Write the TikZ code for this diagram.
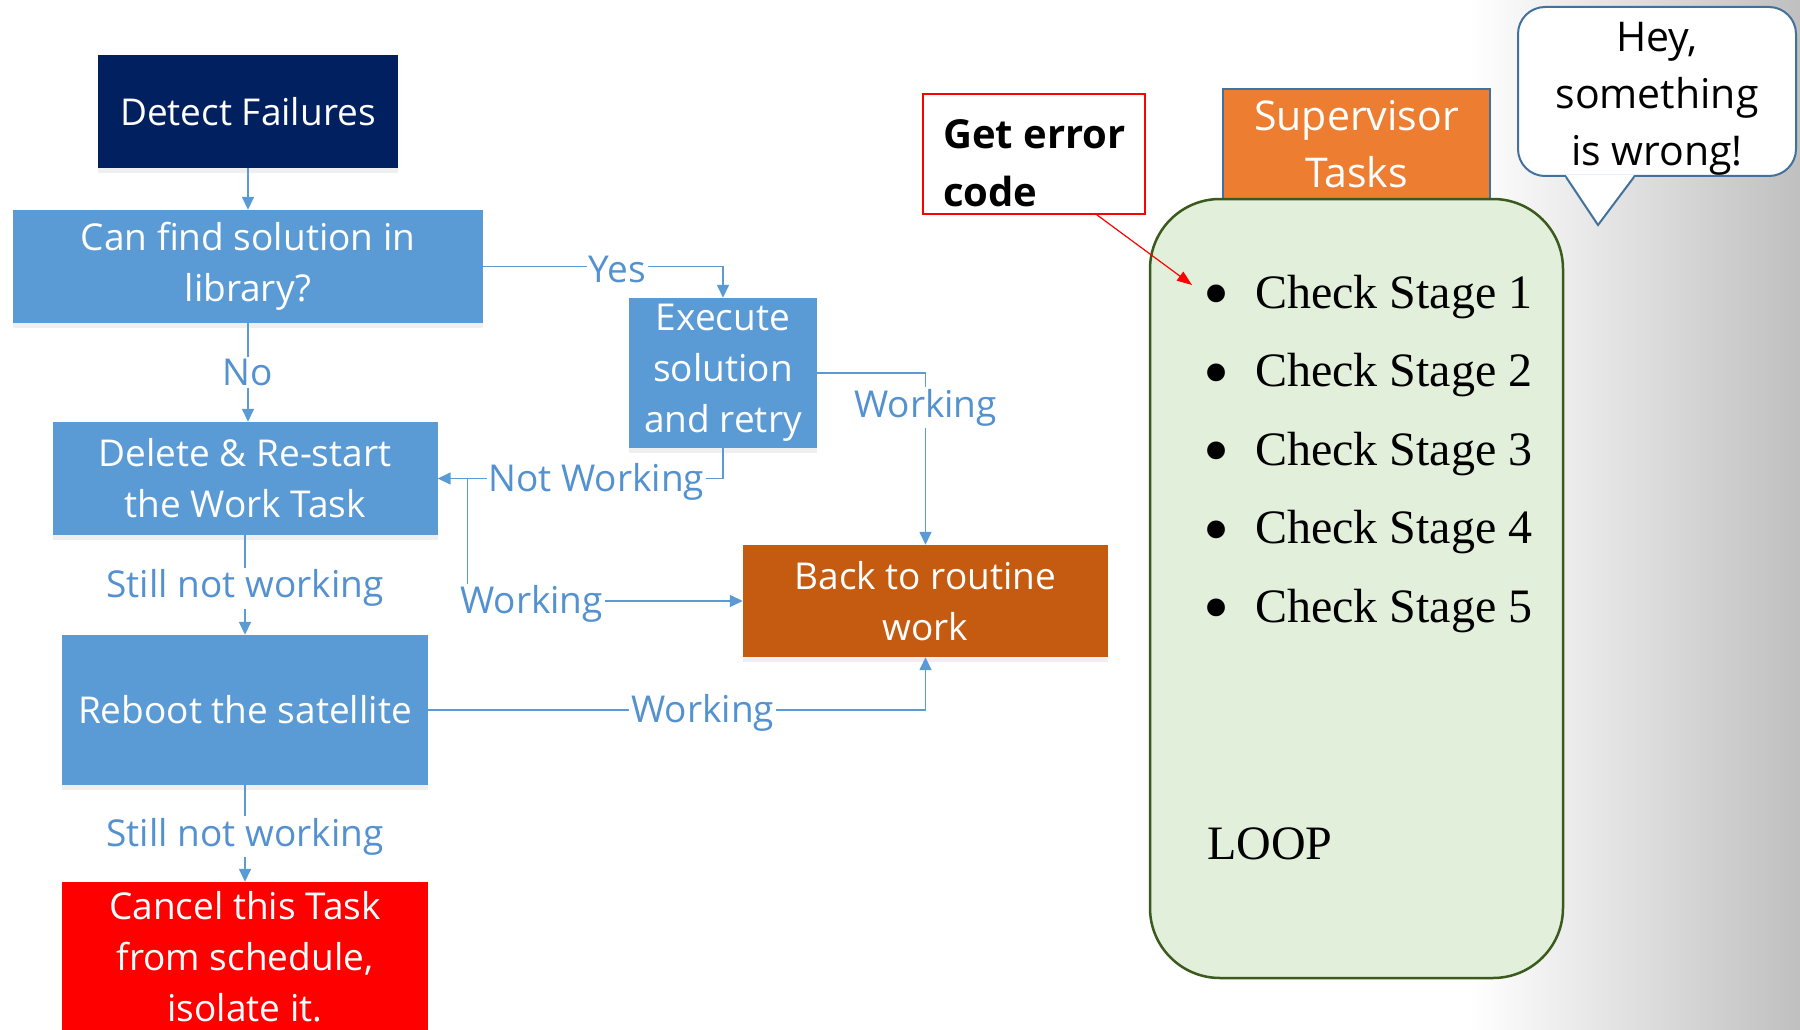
\documentclass[tikz,border=0pt]{standalone}
\usepackage{fontspec}
\usetikzlibrary{arrows.meta,shadows}
\newfontfamily\osans{Open Sans}
\newfontfamily\lserif{Liberation Serif}
\definecolor{navy}{HTML}{002060}
\definecolor{cblue}{HTML}{5B9BD5}
\definecolor{brn}{HTML}{C55A11}
\definecolor{orng}{HTML}{ED7D31}
\definecolor{bord}{HTML}{41719C}
\definecolor{lgreen}{HTML}{E2EFDA}
\definecolor{dgreen}{HTML}{3A5A1E}
\definecolor{ltxt}{HTML}{5391D0}
\begin{document}
\begin{tikzpicture}[x=1pt,y=-1pt,
  box/.style={rectangle, draw=none, text=white, font=\osans\fontsize{37}{51}\selectfont, align=center, inner sep=0pt,
    drop shadow={shadow xshift=0pt, shadow yshift=-5pt, opacity=0.12}},
  conn/.style={draw=cblue, line width=1.5pt, -{Triangle[length=13pt,width=12pt]}},
  lbl/.style={fill=white, text=ltxt, font=\osans\fontsize{37}{44}\selectfont, inner sep=2pt, yshift=-3pt},
  item/.style={anchor=base west, font=\lserif\fontsize{48}{56}\selectfont, inner sep=0pt}
]
\useasboundingbox (0,0) rectangle (1800,1030);
\fill[white] (0,0) rectangle (1800,1030);
\shade[left color=white, right color=black!25] (1470,0) rectangle (1800,1030);

% flowchart boxes
\node[box, fill=navy, minimum width=300, minimum height=113] (det) at (248,111.5) {Detect Failures};
\node[box, fill=cblue, minimum width=470, minimum height=113] (lib) at (248,266.5) {Can find solution in\\library?};
\node[box, fill=cblue, minimum width=188, minimum height=150] (exe) at (723,373) {Execute\\solution\\and retry};
\node[box, fill=cblue, minimum width=385, minimum height=113] (del) at (245,478.5) {Delete \& Re-start\\the Work Task};
\node[box, fill=brn, minimum width=365, minimum height=112] (back) at (925.5,601) {Back to routine\\work};
\node[box, fill=cblue, minimum width=366, minimum height=150] (reb) at (245,710) {Reboot the satellite};
\node[box, fill=red, minimum width=366, minimum height=150] (can) at (245,957) {Cancel this Task\\from schedule,\\isolate it.};

% connectors
\draw[conn] (det.south) -- (det.south |- lib.north);
\draw[conn] (lib.east) -| node[lbl, pos=0.28] {Yes} (exe.north);
\draw[conn] (lib.south) -- node[lbl, yshift=3pt] {No} (lib.south |- del.north);
\draw[conn] (exe.east) -| node[lbl, pos=0.593] {Working} (back.north);
\draw[conn] (exe.south) |- node[lbl, pos=0.722] {Not Working} (del.east);
\draw[conn] (del.east) -- ++(30,0) |- node[lbl, pos=0.616] {Working} (back.west);
\draw[conn] (del.south) -- node[lbl] {Still not working} (del.south |- reb.north);
\draw[conn] (reb.east) -| node[lbl, pos=0.276] {Working} (back.south);
\draw[conn] (reb.south) -- node[lbl] {Still not working} (reb.south |- can.north);

% right side
\node[draw=red, line width=1.5pt, fill=white, minimum width=222, minimum height=120, inner sep=0pt] (err) at (1034,154) {};
\node[anchor=west, align=left, font=\osans\bfseries\fontsize{40}{58}\selectfont, inner sep=0pt] (errtxt) at (943,163) {Get error\\code};

\node[draw=bord, line width=2.5pt, fill=orng, text=white, minimum width=267, minimum height=110, align=center,
  font=\osans\fontsize{41}{57}\selectfont, inner sep=0pt] (sup) at (1356.5,144) {Supervisor\\Tasks};
\node[draw=dgreen, line width=2.5pt, fill=lgreen, rounded corners=70, minimum width=413, minimum height=779, inner sep=0pt] (grn) at (1356.5,588.5) {};

\foreach \i/\y in {1/308,2/386.5,3/465,4/543.5,5/622}
  \node[item] (st\i) at (1203,\y) {\makebox[52pt][l]{\raisebox{-10.5pt}{\scalebox{1.55}{•}}}Check Stage \i};
\node[item] (loop) at (1207,859.5) {LOOP};

\coordinate (tip) at (1192,285);
\draw[red, line width=1.2pt, -{Triangle[length=15pt,width=11pt]}] ([xshift=-49pt]err.south east) -- (tip);

\node[draw=bord, line width=2pt, fill=white, rounded corners=27, minimum width=278, minimum height=169, inner sep=0pt] (bub) at (1657,91.5) {};
\coordinate (bubtip) at (1598,225);
\fill[white] ([xshift=-91pt,yshift=2pt]bub.south) -- (bubtip) -- ([xshift=-23pt,yshift=2pt]bub.south) -- cycle;
\draw[bord, line width=2pt, line join=miter] ([xshift=-91pt]bub.south) -- (bubtip) -- ([xshift=-23pt]bub.south);
\node[align=center, font=\osans\fontsize{41}{57}\selectfont, inner sep=0pt] (bubtxt) at (1657,98.5) {Hey,\\something\\is wrong!};
\end{tikzpicture}
\end{document}
